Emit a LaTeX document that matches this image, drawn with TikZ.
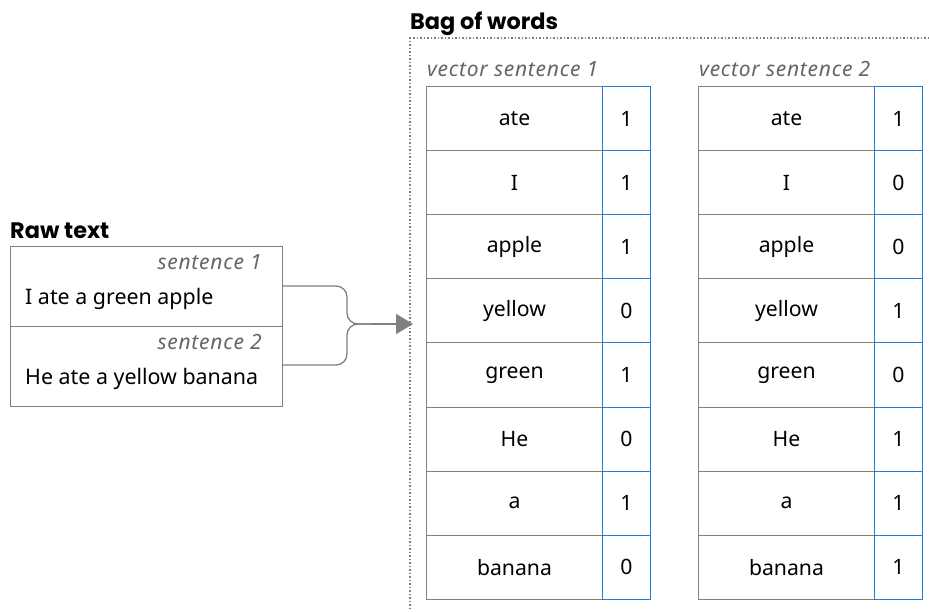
\documentclass[tikz,border=0pt]{standalone}
\usepackage{fontspec}
\setmainfont{Noto Sans}
\newfontfamily\headfont{Poppins}
\newfontfamily\capfont[LetterSpace=3.5]{Noto Sans}
\usetikzlibrary{arrows.meta}
\definecolor{linegray}{HTML}{808080}
\definecolor{labelgray}{HTML}{666666}
\definecolor{valblue}{HTML}{1F7FD6}
\begin{document}
\begin{tikzpicture}[x=1pt,y=-1pt,
  heading/.style={font=\headfont\bfseries\fontsize{22.4}{26}\selectfont, anchor=base west, inner sep=0pt},
  caption/.style={font=\capfont\itshape\fontsize{21}{25}\selectfont, text=labelgray, inner sep=0pt},
  sentence/.style={font=\fontsize{21.4}{25}\selectfont, anchor=base west, inner sep=0pt},
  wordcell/.style={draw=linegray, line width=1pt, minimum width=176pt, minimum height=64.1pt, inner sep=0pt, font=\fontsize{21.2}{25}\selectfont, anchor=north west},
  valcell/.style={draw=valblue, line width=1pt, minimum width=48pt, minimum height=64.1pt, inner sep=0pt, font=\fontsize{21.2}{25}\selectfont, anchor=north west},
  rawbox/.style={draw=linegray, line width=1pt, minimum width=272pt, minimum height=80pt, inner sep=0pt, anchor=north west},
  link/.style={draw=linegray, line width=1.3pt, rounded corners=11pt}
]
\useasboundingbox (0,0) rectangle (929,611);

% Raw text panel
\node[heading] (rawtitle) at (10,238) {Raw text};
\node[rawbox] (raw1) at (10,246) {};
\node[rawbox] (raw2) at (10,326) {};
\node[caption, anchor=base east] (cap1) at (262,269) {sentence 1};
\node[sentence] (s1) at (25,304) {I ate a green apple};
\node[caption, anchor=base east] (cap2) at (262,349) {sentence 2};
\node[sentence] (s2) at (25,384) {He ate a yellow banana};

% Bag of words panel
\node[heading] (bowtitle) at (410,29) {Bag of words};
\draw[linegray, line width=1.1pt, dash pattern=on 1.5pt off 2pt] (929,38) -- (410,38) -- (410,611);
\node[caption, anchor=base west] (vcap1) at (427,76) {vector sentence 1};
\node[caption, anchor=base west] (vcap2) at (699,76) {vector sentence 2};

\foreach \w [count=\i from 0] in {ate, I, apple, yellow, green, He, a, banana}{
  \node[wordcell] (wa\i) at (426,{86+64.1*\i}) {\w};
  \node[wordcell] (wb\i) at (698,{86+64.1*\i}) {\w};
}
\foreach \a/\b [count=\i from 0] in {1/1, 1/0, 1/0, 0/1, 1/0, 0/1, 1/1, 0/1}{
  \node[valcell] (va\i) at (602,{86+64.1*\i}) {\a};
  \node[valcell] (vb\i) at (874,{86+64.1*\i}) {\b};
}

% Brace-shaped connector merging both sentences into the arrow
\coordinate (bend) at (347,324);
\coordinate (join) at (372,324);
\coordinate (tip) at (413,324);
\draw[link] (raw1.east |- 0,286) -- (347,286) -- (bend) -- (join);
\draw[link] (raw2.east |- 0,365) -- (347,365) -- (bend) -- (join);
\draw[linegray, line width=1.3pt, -{Triangle[length=17pt,width=20pt]}] (join) -- (tip);
\end{tikzpicture}
\end{document}
